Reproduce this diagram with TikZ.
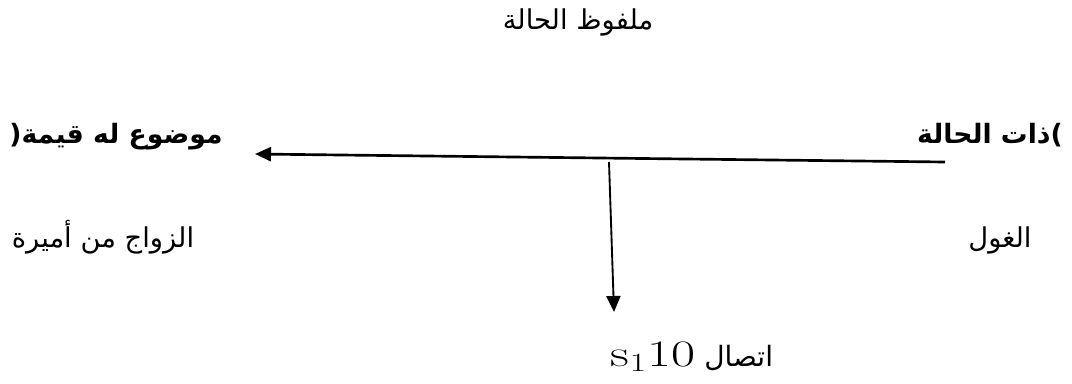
\documentclass[tikz,border=0pt]{standalone}
\usepackage{fontspec}
\usepackage{tikz}
\usetikzlibrary{arrows.meta}
\TeXXeTstate=1
\newfontfamily\arabicfont[Script=Arabic]{DejaVu Sans}
\tikzset{
  label ar/.style={font=\arabicfont\fontsize{20.5}{23}\selectfont, anchor=base, inner sep=0pt},
  title ar/.style={font=\arabicfont\bfseries\fontsize{20}{23}\selectfont, anchor=base, inner sep=0pt},
  link/.style={draw, line width=2pt, -{Triangle[length=12pt,width=10.5pt]}}
}

\begin{document}
\begin{tikzpicture}[x=0.75pt, y=0.75pt]
  \useasboundingbox (0,0) rectangle (1072,-383);
  \node[label ar] (enonce) at (578,-29) {\beginR ملفوظ الحالة\endR};
  \node[title ar] (subj) at (990,-143) {\beginR\hbox{)}ذات الحالة\endR};
  \node[title ar] (obj) at (116,-143) {\beginR موضوع له قيمة\hbox{(}\endR};
  \node[label ar] (subjval) at (1000,-247) {\beginR الغول\endR};
  \node[label ar] (objval) at (103,-247) {\beginR الزواج من أميرة\endR};
  \node[label ar, font=\arabicfont\fontsize{21}{24}\selectfont] (conj) at (692,-366)
    {\beginR اتصال \beginL\scalebox{1.4}[1]{\rmfamily\fontsize{28}{30}\selectfont s\textsubscript{1}10}\endL\endR};
  \coordinate (subjend) at (945,-162);
  \coordinate (objend) at (255,-154);
  \coordinate (junc) at (609,-162);
  \coordinate (conjtop) at (614,-312);
  \draw[link] (subjend) -- (objend);
  \draw[link, line width=1.4pt] (junc) -- (conjtop);
\end{tikzpicture}
\end{document}
